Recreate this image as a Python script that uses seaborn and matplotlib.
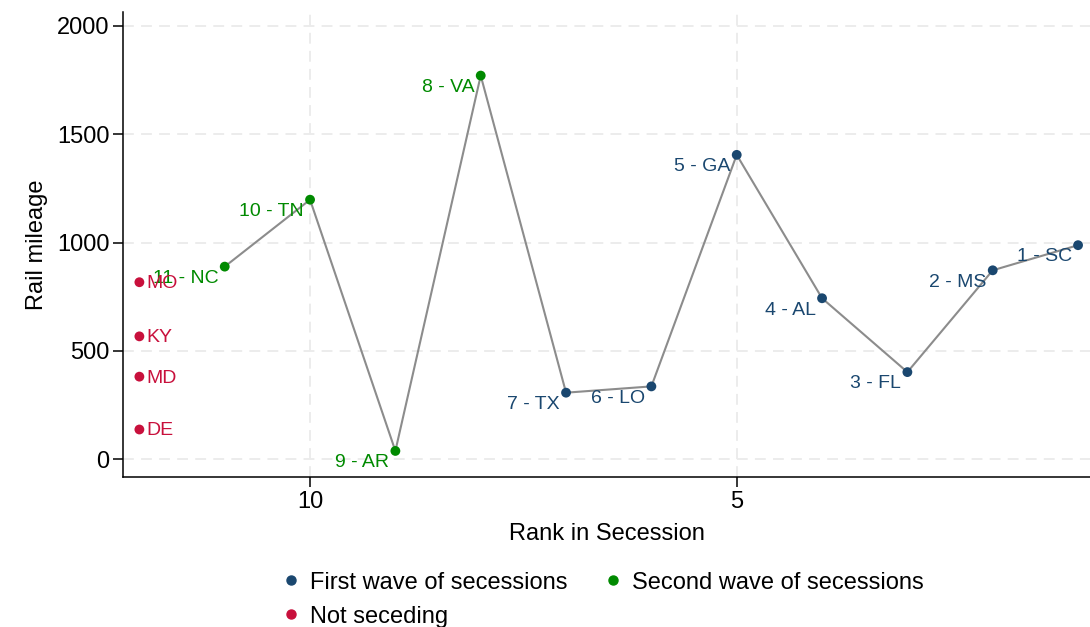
import matplotlib
matplotlib.use("Agg")
import matplotlib.pyplot as plt
import seaborn as sns
import pandas as pd
from matplotlib.lines import Line2D

# Southern states: order of secession and rail mileage in 1860
states = ["SC", "MS", "FL", "AL", "GA", "LO", "TX", "VA", "AR", "TN", "NC",
          "MO", "KY", "MD", "DE"]
rank = [1, 2, 3, 4, 5, 6, 7, 8, 9, 10, 11, None, None, None, None]
# non-seceding states are parked in column 12
plot_rank = [1, 2, 3, 4, 5, 6, 7, 8, 9, 10, 11, 12, 12, 12, 12]
miles = [988, 872, 402, 743, 1405, 336, 307, 1771, 38, 1198, 889,
         817, 567, 381, 137]
group = (["First wave of secessions"] * 7 + ["Second wave of secessions"] * 4
         + ["Not seceding"] * 4)

groups = ["First wave of secessions", "Second wave of secessions", "Not seceding"]
colors = ["#1a476f", "#008a00", "#c8103c"]
palette = dict(zip(groups, colors))

df = pd.DataFrame({"state": states, "rank": rank, "x": plot_rank,
                   "miles": miles, "group": group})

sns.set_theme(style="white")
plt.rcParams["font.family"] = ["Liberation Sans", "DejaVu Sans"]
plt.rcParams["text.color"] = "black"
plt.rcParams["axes.labelcolor"] = "black"
plt.rcParams["xtick.color"] = "black"
plt.rcParams["ytick.color"] = "black"

fig = plt.figure(figsize=(10.9, 6.27), dpi=100)
ax = fig.add_axes([0.113, 0.239, 0.887, 0.742])

sec = df[df["rank"].notna()].sort_values("x")
sns.lineplot(data=sec, x="x", y="miles", ax=ax, color="#8c8c8c", lw=1.5,
             sort=False, zorder=2, legend=False)
sns.scatterplot(data=df, x="x", y="miles", hue="group", palette=palette,
                hue_order=groups, s=50, edgecolor="none", ax=ax, zorder=3,
                legend=False)

for _, r in df.iterrows():
    c = palette[r["group"]]
    if pd.notna(r["rank"]):
        ax.annotate(f"{int(r['rank'])} - {r['state']}", (r["x"], r["miles"]),
                    xytext=(-4.5, -8.5), textcoords="offset points",
                    ha="right", va="center", fontsize=14, color=c, zorder=4)
    else:
        ax.annotate(r["state"], (r["x"], r["miles"]),
                    xytext=(5, -1), textcoords="offset points",
                    ha="left", va="center", fontsize=14, color=c, zorder=4)

ax.set_xlim(12.19, 0.86)
ax.set_ylim(-83, 2065)
ax.set_xticks([10, 5])
ax.set_yticks([0, 500, 1000, 1500, 2000])
ax.grid(True, color="#ebebeb", lw=1.3, ls=(0, (6, 4)))
ax.set_axisbelow(True)
for side in ["top", "right"]:
    ax.spines[side].set_visible(False)
for side in ["left", "bottom"]:
    ax.spines[side].set_color("black")
    ax.spines[side].set_linewidth(1.1)
ax.tick_params(axis="both", which="major", length=7, width=1.1,
               color="black", labelsize=17, direction="out",
               left=True, bottom=True, pad=3)
ax.set_xlabel("Rank in Secession", fontsize=17, labelpad=7)
ax.set_ylabel("Rail mileage", fontsize=17, labelpad=6)

# row-wise legend order: first / second wave, then not seceding
order = [0, 2, 1]
handles = [Line2D([], [], marker="o", ls="none", color=palette[groups[i]],
                  markersize=6.5) for i in order]
labels = [groups[i] for i in order]
fig.legend(handles, labels, loc="upper center", bbox_to_anchor=(0.552, 0.122),
           ncol=2, frameon=False, fontsize=17, handletextpad=0.3,
           columnspacing=1.45, labelspacing=0.5, handlelength=1.0)

fig.savefig("out.png", dpi=100)
